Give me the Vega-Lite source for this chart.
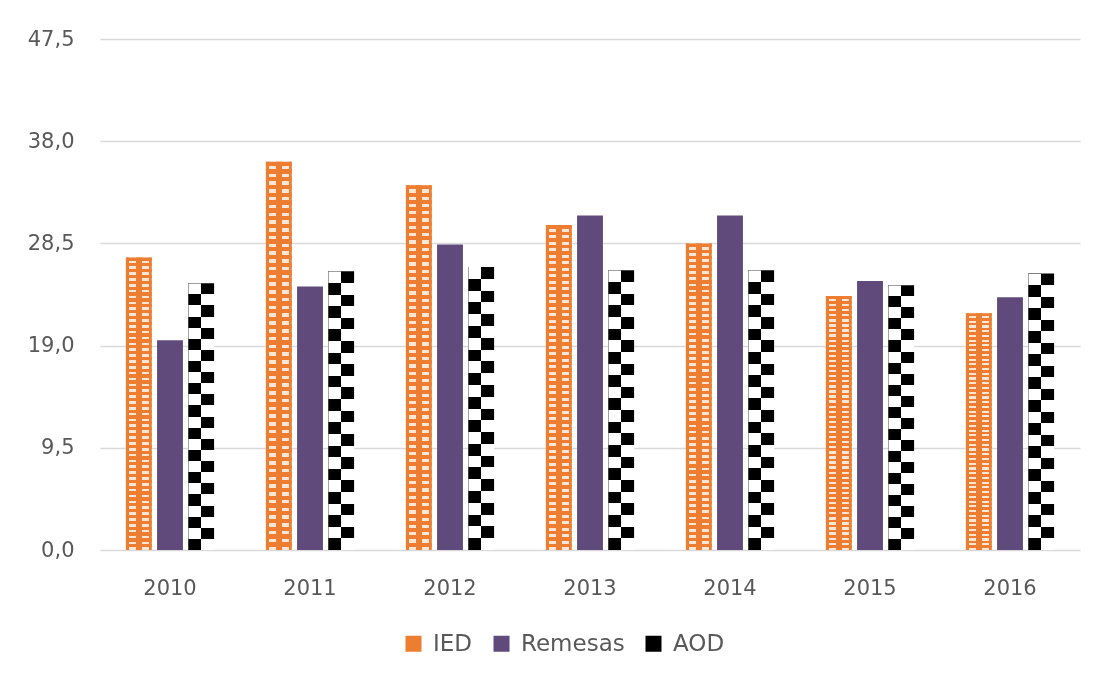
{
  "$schema": "https://vega.github.io/schema/vega-lite/v6.json",
  "width": 980,
  "height": 511,
  "autosize": {"type": "none"},
  "padding": {"left": 100, "top": 39, "right": 17, "bottom": 128},
  "background": "white",
  "config": {"view": {"stroke": null}, "font": "DejaVu Sans"},
  "data": {"values": [
    {"anio": "2010", "serie": "IED", "valor": 27.2},
    {"anio": "2010", "serie": "Remesas", "valor": 19.5},
    {"anio": "2010", "serie": "AOD", "valor": 24.8},
    {"anio": "2011", "serie": "IED", "valor": 36.1},
    {"anio": "2011", "serie": "Remesas", "valor": 24.5},
    {"anio": "2011", "serie": "AOD", "valor": 25.9},
    {"anio": "2012", "serie": "IED", "valor": 33.9},
    {"anio": "2012", "serie": "Remesas", "valor": 28.4},
    {"anio": "2012", "serie": "AOD", "valor": 26.3},
    {"anio": "2013", "serie": "IED", "valor": 30.2},
    {"anio": "2013", "serie": "Remesas", "valor": 31.1},
    {"anio": "2013", "serie": "AOD", "valor": 26.0},
    {"anio": "2014", "serie": "IED", "valor": 28.5},
    {"anio": "2014", "serie": "Remesas", "valor": 31.1},
    {"anio": "2014", "serie": "AOD", "valor": 26.0},
    {"anio": "2015", "serie": "IED", "valor": 23.6},
    {"anio": "2015", "serie": "Remesas", "valor": 25.0},
    {"anio": "2015", "serie": "AOD", "valor": 24.6},
    {"anio": "2016", "serie": "IED", "valor": 22.0},
    {"anio": "2016", "serie": "Remesas", "valor": 23.5},
    {"anio": "2016", "serie": "AOD", "valor": 25.7}
  ]},
  "encoding": {
    "x": {
      "field": "anio", "type": "nominal", "sort": null,
      "scale": {"paddingInner": 0.37, "paddingOuter": 0.185},
      "axis": {"title": null, "labelAngle": 0, "ticks": false, "domain": false, "labelFontSize": 21, "labelColor": "#595959", "labelPadding": 27, "labelFont": "DejaVu Sans"}
    },
    "xOffset": {
      "field": "serie", "type": "nominal", "sort": ["IED", "Remesas", "AOD"],
      "scale": {"domain": ["IED", "Remesas", "AOD"], "paddingInner": 0.17, "paddingOuter": 0}
    },
    "y": {
      "field": "valor", "type": "quantitative",
      "scale": {"domain": [0, 47.5], "nice": false, "zero": true},
      "axis": {"title": null, "values": [0, 9.5, 19, 28.5, 38, 47.5], "labelExpr": "replace(format(datum.value, '.1f'), '.', ',')", "ticks": false, "domain": false, "grid": true, "gridColor": "#D9D9D9", "gridWidth": 1.5, "labelFontSize": 21, "labelColor": "#595959", "labelPadding": 26, "labelFont": "DejaVu Sans"}
    }
  },
  "layer": [
    {
      "mark": {"type": "bar", "strokeWidth": 0},
      "encoding": {
        "fill": {
          "field": "serie", "type": "nominal",
          "scale": {"domain": ["IED", "Remesas", "AOD"], "range": ["#ED7D31", "#604A7B", "#000000"]},
          "legend": {"orient": "none", "legendX": 302, "legendY": 593, "direction": "horizontal", "title": null, "symbolType": "square", "symbolSize": 256, "symbolStrokeWidth": 0, "labelFontSize": 23, "labelColor": "#595959", "labelOffset": 8, "columnPadding": 17, "padding": 0, "labelFont": "DejaVu Sans"},
          "condition": [
            {"test": "datum.serie === 'IED'", "value": {"gradient": "linear", "x1": 0, "y1": 0, "x2": 1, "y2": 0, "stops": [
              {"offset": 0, "color": "#ED7D31"}, {"offset": 0.12, "color": "#ED7D31"}, {"offset": 0.12, "color": "#FDE6D5"}, {"offset": 0.38, "color": "#FDE6D5"},
              {"offset": 0.38, "color": "#ED7D31"}, {"offset": 0.62, "color": "#ED7D31"}, {"offset": 0.62, "color": "#FDE6D5"}, {"offset": 0.88, "color": "#FDE6D5"},
              {"offset": 0.88, "color": "#ED7D31"}, {"offset": 1, "color": "#ED7D31"}]}},
            {"test": "datum.serie === 'AOD'", "value": {"gradient": "linear", "x1": 0, "y1": 0, "x2": 1, "y2": 0, "stops": [
              {"offset": 0, "color": "#000000"}, {"offset": 0.5, "color": "#000000"}, {"offset": 0.5, "color": "#FFFFFF"}, {"offset": 1, "color": "#FFFFFF"}]}}
          ]
        }
      }
    },
    {
      "transform": [{"filter": "datum.serie === 'IED'"}],
      "mark": {"type": "bar", "strokeWidth": 0, "blend": "darken", "fill": {"gradient": "linear", "x1": 0, "y1": 0, "x2": 0, "y2": 1, "stops": [
        {"offset": 0, "color": "#ED7D31"}, {"offset": 0.011, "color": "#ED7D31"}, {"offset": 0.011, "color": "#FDE6D5"}, {"offset": 0.02, "color": "#FDE6D5"},
        {"offset": 0.02, "color": "#ED7D31"}, {"offset": 0.031, "color": "#ED7D31"}, {"offset": 0.031, "color": "#FDE6D5"}, {"offset": 0.04, "color": "#FDE6D5"},
        {"offset": 0.04, "color": "#ED7D31"}, {"offset": 0.051, "color": "#ED7D31"}, {"offset": 0.051, "color": "#FDE6D5"}, {"offset": 0.06, "color": "#FDE6D5"},
        {"offset": 0.06, "color": "#ED7D31"}, {"offset": 0.071, "color": "#ED7D31"}, {"offset": 0.071, "color": "#FDE6D5"}, {"offset": 0.08, "color": "#FDE6D5"},
        {"offset": 0.08, "color": "#ED7D31"}, {"offset": 0.091, "color": "#ED7D31"}, {"offset": 0.091, "color": "#FDE6D5"}, {"offset": 0.1, "color": "#FDE6D5"},
        {"offset": 0.1, "color": "#ED7D31"}, {"offset": 0.111, "color": "#ED7D31"}, {"offset": 0.111, "color": "#FDE6D5"}, {"offset": 0.12, "color": "#FDE6D5"},
        {"offset": 0.12, "color": "#ED7D31"}, {"offset": 0.131, "color": "#ED7D31"}, {"offset": 0.131, "color": "#FDE6D5"}, {"offset": 0.14, "color": "#FDE6D5"},
        {"offset": 0.14, "color": "#ED7D31"}, {"offset": 0.151, "color": "#ED7D31"}, {"offset": 0.151, "color": "#FDE6D5"}, {"offset": 0.16, "color": "#FDE6D5"},
        {"offset": 0.16, "color": "#ED7D31"}, {"offset": 0.171, "color": "#ED7D31"}, {"offset": 0.171, "color": "#FDE6D5"}, {"offset": 0.18, "color": "#FDE6D5"},
        {"offset": 0.18, "color": "#ED7D31"}, {"offset": 0.191, "color": "#ED7D31"}, {"offset": 0.191, "color": "#FDE6D5"}, {"offset": 0.2, "color": "#FDE6D5"},
        {"offset": 0.2, "color": "#ED7D31"}, {"offset": 0.211, "color": "#ED7D31"}, {"offset": 0.211, "color": "#FDE6D5"}, {"offset": 0.22, "color": "#FDE6D5"},
        {"offset": 0.22, "color": "#ED7D31"}, {"offset": 0.231, "color": "#ED7D31"}, {"offset": 0.231, "color": "#FDE6D5"}, {"offset": 0.24, "color": "#FDE6D5"},
        {"offset": 0.24, "color": "#ED7D31"}, {"offset": 0.251, "color": "#ED7D31"}, {"offset": 0.251, "color": "#FDE6D5"}, {"offset": 0.26, "color": "#FDE6D5"},
        {"offset": 0.26, "color": "#ED7D31"}, {"offset": 0.271, "color": "#ED7D31"}, {"offset": 0.271, "color": "#FDE6D5"}, {"offset": 0.28, "color": "#FDE6D5"},
        {"offset": 0.28, "color": "#ED7D31"}, {"offset": 0.291, "color": "#ED7D31"}, {"offset": 0.291, "color": "#FDE6D5"}, {"offset": 0.3, "color": "#FDE6D5"},
        {"offset": 0.3, "color": "#ED7D31"}, {"offset": 0.311, "color": "#ED7D31"}, {"offset": 0.311, "color": "#FDE6D5"}, {"offset": 0.32, "color": "#FDE6D5"},
        {"offset": 0.32, "color": "#ED7D31"}, {"offset": 0.331, "color": "#ED7D31"}, {"offset": 0.331, "color": "#FDE6D5"}, {"offset": 0.34, "color": "#FDE6D5"},
        {"offset": 0.34, "color": "#ED7D31"}, {"offset": 0.351, "color": "#ED7D31"}, {"offset": 0.351, "color": "#FDE6D5"}, {"offset": 0.36, "color": "#FDE6D5"},
        {"offset": 0.36, "color": "#ED7D31"}, {"offset": 0.371, "color": "#ED7D31"}, {"offset": 0.371, "color": "#FDE6D5"}, {"offset": 0.38, "color": "#FDE6D5"},
        {"offset": 0.38, "color": "#ED7D31"}, {"offset": 0.391, "color": "#ED7D31"}, {"offset": 0.391, "color": "#FDE6D5"}, {"offset": 0.4, "color": "#FDE6D5"},
        {"offset": 0.4, "color": "#ED7D31"}, {"offset": 0.411, "color": "#ED7D31"}, {"offset": 0.411, "color": "#FDE6D5"}, {"offset": 0.42, "color": "#FDE6D5"},
        {"offset": 0.42, "color": "#ED7D31"}, {"offset": 0.431, "color": "#ED7D31"}, {"offset": 0.431, "color": "#FDE6D5"}, {"offset": 0.44, "color": "#FDE6D5"},
        {"offset": 0.44, "color": "#ED7D31"}, {"offset": 0.451, "color": "#ED7D31"}, {"offset": 0.451, "color": "#FDE6D5"}, {"offset": 0.46, "color": "#FDE6D5"},
        {"offset": 0.46, "color": "#ED7D31"}, {"offset": 0.471, "color": "#ED7D31"}, {"offset": 0.471, "color": "#FDE6D5"}, {"offset": 0.48, "color": "#FDE6D5"},
        {"offset": 0.48, "color": "#ED7D31"}, {"offset": 0.491, "color": "#ED7D31"}, {"offset": 0.491, "color": "#FDE6D5"}, {"offset": 0.5, "color": "#FDE6D5"},
        {"offset": 0.5, "color": "#ED7D31"}, {"offset": 0.511, "color": "#ED7D31"}, {"offset": 0.511, "color": "#FDE6D5"}, {"offset": 0.52, "color": "#FDE6D5"},
        {"offset": 0.52, "color": "#ED7D31"}, {"offset": 0.531, "color": "#ED7D31"}, {"offset": 0.531, "color": "#FDE6D5"}, {"offset": 0.54, "color": "#FDE6D5"},
        {"offset": 0.54, "color": "#ED7D31"}, {"offset": 0.551, "color": "#ED7D31"}, {"offset": 0.551, "color": "#FDE6D5"}, {"offset": 0.56, "color": "#FDE6D5"},
        {"offset": 0.56, "color": "#ED7D31"}, {"offset": 0.571, "color": "#ED7D31"}, {"offset": 0.571, "color": "#FDE6D5"}, {"offset": 0.58, "color": "#FDE6D5"},
        {"offset": 0.58, "color": "#ED7D31"}, {"offset": 0.591, "color": "#ED7D31"}, {"offset": 0.591, "color": "#FDE6D5"}, {"offset": 0.6, "color": "#FDE6D5"},
        {"offset": 0.6, "color": "#ED7D31"}, {"offset": 0.611, "color": "#ED7D31"}, {"offset": 0.611, "color": "#FDE6D5"}, {"offset": 0.62, "color": "#FDE6D5"},
        {"offset": 0.62, "color": "#ED7D31"}, {"offset": 0.631, "color": "#ED7D31"}, {"offset": 0.631, "color": "#FDE6D5"}, {"offset": 0.64, "color": "#FDE6D5"},
        {"offset": 0.64, "color": "#ED7D31"}, {"offset": 0.651, "color": "#ED7D31"}, {"offset": 0.651, "color": "#FDE6D5"}, {"offset": 0.66, "color": "#FDE6D5"},
        {"offset": 0.66, "color": "#ED7D31"}, {"offset": 0.671, "color": "#ED7D31"}, {"offset": 0.671, "color": "#FDE6D5"}, {"offset": 0.68, "color": "#FDE6D5"},
        {"offset": 0.68, "color": "#ED7D31"}, {"offset": 0.691, "color": "#ED7D31"}, {"offset": 0.691, "color": "#FDE6D5"}, {"offset": 0.7, "color": "#FDE6D5"},
        {"offset": 0.7, "color": "#ED7D31"}, {"offset": 0.711, "color": "#ED7D31"}, {"offset": 0.711, "color": "#FDE6D5"}, {"offset": 0.72, "color": "#FDE6D5"},
        {"offset": 0.72, "color": "#ED7D31"}, {"offset": 0.731, "color": "#ED7D31"}, {"offset": 0.731, "color": "#FDE6D5"}, {"offset": 0.74, "color": "#FDE6D5"},
        {"offset": 0.74, "color": "#ED7D31"}, {"offset": 0.751, "color": "#ED7D31"}, {"offset": 0.751, "color": "#FDE6D5"}, {"offset": 0.76, "color": "#FDE6D5"},
        {"offset": 0.76, "color": "#ED7D31"}, {"offset": 0.771, "color": "#ED7D31"}, {"offset": 0.771, "color": "#FDE6D5"}, {"offset": 0.78, "color": "#FDE6D5"},
        {"offset": 0.78, "color": "#ED7D31"}, {"offset": 0.791, "color": "#ED7D31"}, {"offset": 0.791, "color": "#FDE6D5"}, {"offset": 0.8, "color": "#FDE6D5"},
        {"offset": 0.8, "color": "#ED7D31"}, {"offset": 0.811, "color": "#ED7D31"}, {"offset": 0.811, "color": "#FDE6D5"}, {"offset": 0.82, "color": "#FDE6D5"},
        {"offset": 0.82, "color": "#ED7D31"}, {"offset": 0.831, "color": "#ED7D31"}, {"offset": 0.831, "color": "#FDE6D5"}, {"offset": 0.84, "color": "#FDE6D5"},
        {"offset": 0.84, "color": "#ED7D31"}, {"offset": 0.851, "color": "#ED7D31"}, {"offset": 0.851, "color": "#FDE6D5"}, {"offset": 0.86, "color": "#FDE6D5"},
        {"offset": 0.86, "color": "#ED7D31"}, {"offset": 0.871, "color": "#ED7D31"}, {"offset": 0.871, "color": "#FDE6D5"}, {"offset": 0.88, "color": "#FDE6D5"},
        {"offset": 0.88, "color": "#ED7D31"}, {"offset": 0.891, "color": "#ED7D31"}, {"offset": 0.891, "color": "#FDE6D5"}, {"offset": 0.9, "color": "#FDE6D5"},
        {"offset": 0.9, "color": "#ED7D31"}, {"offset": 0.911, "color": "#ED7D31"}, {"offset": 0.911, "color": "#FDE6D5"}, {"offset": 0.92, "color": "#FDE6D5"},
        {"offset": 0.92, "color": "#ED7D31"}, {"offset": 0.931, "color": "#ED7D31"}, {"offset": 0.931, "color": "#FDE6D5"}, {"offset": 0.94, "color": "#FDE6D5"},
        {"offset": 0.94, "color": "#ED7D31"}, {"offset": 0.951, "color": "#ED7D31"}, {"offset": 0.951, "color": "#FDE6D5"}, {"offset": 0.96, "color": "#FDE6D5"},
        {"offset": 0.96, "color": "#ED7D31"}, {"offset": 0.971, "color": "#ED7D31"}, {"offset": 0.971, "color": "#FDE6D5"}, {"offset": 0.98, "color": "#FDE6D5"},
        {"offset": 0.98, "color": "#ED7D31"}, {"offset": 0.991, "color": "#ED7D31"}, {"offset": 0.991, "color": "#FDE6D5"}, {"offset": 1, "color": "#FDE6D5"}]}}
    },
    {
      "transform": [{"filter": "datum.serie === 'AOD'"}],
      "mark": {"type": "bar", "strokeWidth": 0, "blend": "difference", "fill": {"gradient": "linear", "x1": 0, "y1": 0, "x2": 0, "y2": 1, "stops": [
        {"offset": 0, "color": "#FFFFFF"}, {"offset": 0.041667, "color": "#FFFFFF"}, {"offset": 0.041667, "color": "#000000"}, {"offset": 0.083333, "color": "#000000"},
        {"offset": 0.083333, "color": "#FFFFFF"}, {"offset": 0.125, "color": "#FFFFFF"}, {"offset": 0.125, "color": "#000000"}, {"offset": 0.166667, "color": "#000000"},
        {"offset": 0.166667, "color": "#FFFFFF"}, {"offset": 0.208333, "color": "#FFFFFF"}, {"offset": 0.208333, "color": "#000000"}, {"offset": 0.25, "color": "#000000"},
        {"offset": 0.25, "color": "#FFFFFF"}, {"offset": 0.291667, "color": "#FFFFFF"}, {"offset": 0.291667, "color": "#000000"}, {"offset": 0.333333, "color": "#000000"},
        {"offset": 0.333333, "color": "#FFFFFF"}, {"offset": 0.375, "color": "#FFFFFF"}, {"offset": 0.375, "color": "#000000"}, {"offset": 0.416667, "color": "#000000"},
        {"offset": 0.416667, "color": "#FFFFFF"}, {"offset": 0.458333, "color": "#FFFFFF"}, {"offset": 0.458333, "color": "#000000"}, {"offset": 0.5, "color": "#000000"},
        {"offset": 0.5, "color": "#FFFFFF"}, {"offset": 0.541667, "color": "#FFFFFF"}, {"offset": 0.541667, "color": "#000000"}, {"offset": 0.583333, "color": "#000000"},
        {"offset": 0.583333, "color": "#FFFFFF"}, {"offset": 0.625, "color": "#FFFFFF"}, {"offset": 0.625, "color": "#000000"}, {"offset": 0.666667, "color": "#000000"},
        {"offset": 0.666667, "color": "#FFFFFF"}, {"offset": 0.708333, "color": "#FFFFFF"}, {"offset": 0.708333, "color": "#000000"}, {"offset": 0.75, "color": "#000000"},
        {"offset": 0.75, "color": "#FFFFFF"}, {"offset": 0.791667, "color": "#FFFFFF"}, {"offset": 0.791667, "color": "#000000"}, {"offset": 0.833333, "color": "#000000"},
        {"offset": 0.833333, "color": "#FFFFFF"}, {"offset": 0.875, "color": "#FFFFFF"}, {"offset": 0.875, "color": "#000000"}, {"offset": 0.916667, "color": "#000000"},
        {"offset": 0.916667, "color": "#FFFFFF"}, {"offset": 0.958333, "color": "#FFFFFF"}, {"offset": 0.958333, "color": "#000000"}, {"offset": 1, "color": "#000000"}]}}
    }
  ]
}
